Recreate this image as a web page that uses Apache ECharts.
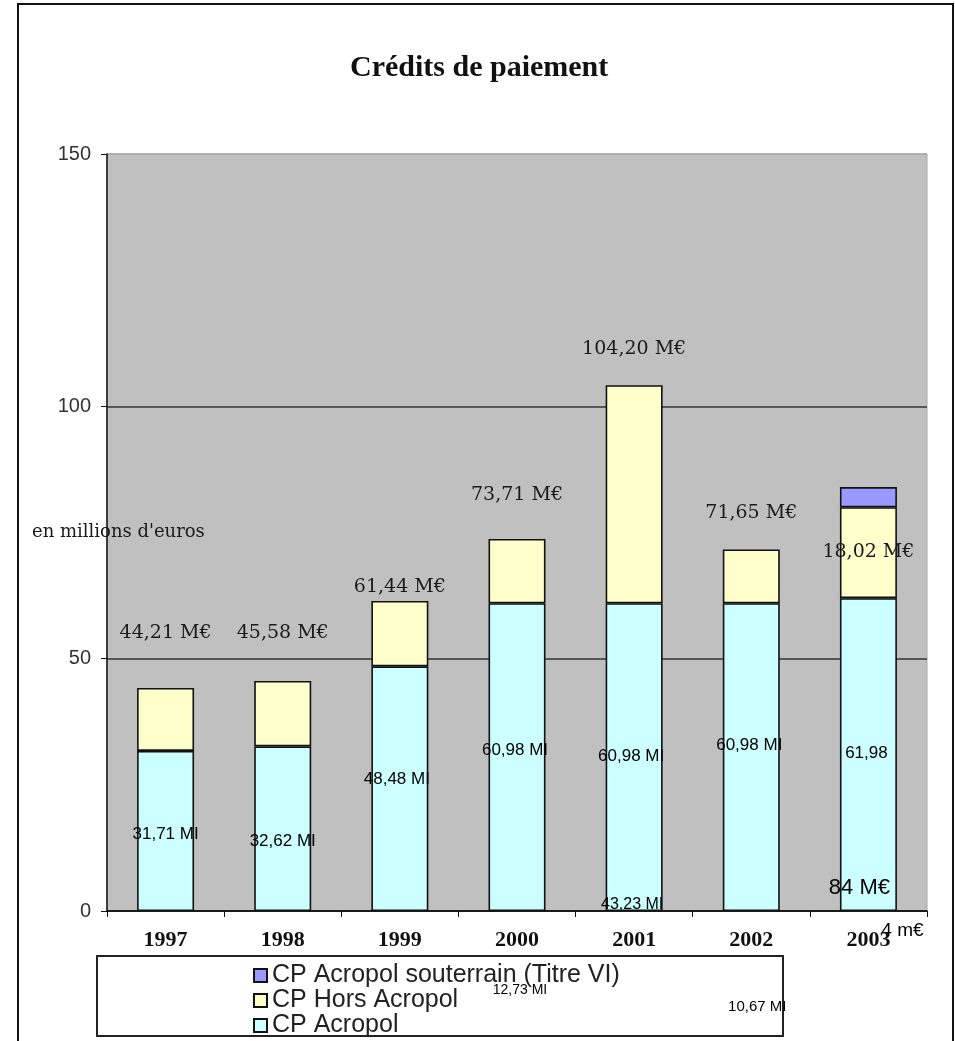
<!DOCTYPE html>
<html>
<head>
<meta charset="utf-8">
<title>Crédits de paiement</title>
<script src="https://cdn.jsdelivr.net/npm/echarts@6/dist/echarts.min.js"></script>
<style>
  html, body { margin: 0; padding: 0; background: #fff; }
  #chart { width: 955px; height: 1041px; }
</style>
</head>
<body>
<div id="chart"></div>
<script>
// années
const years = ['1997', '1998', '1999', '2000', '2001', '2002', '2003'];

// montants en millions d'euros
const cpAcropol = [31.71, 32.62, 48.48, 60.98, 60.98, 60.98, 61.98];
const cpHorsAcropol = [12.50, 12.96, 12.96, 12.73, 43.22, 10.67, 18.02];
const cpSouterrain = [null, null, null, null, null, null, 4];

const yTicks = [0, 50, 100, 150];

// étiquettes des totaux (texte + hauteur de l'étiquette en unités de l'axe)
const totalLabelText = ['44,21 M€', '45,58 M€', '61,44 M€', '73,71 M€', '104,20 M€', '71,65 M€', '18,02 M€'];
const totalLabelY = [55.1, 55.1, 64.2, 82.4, 111.4, 78.9, 71.1];

// étiquettes des segments : [année, hauteur, texte]
const segmentLabels = [
  [0, 15.1, '31,71 MI'],
  [1, 13.9, '32,62 MI'],
  [2, 26.0, '48,48 MI'],
  [3, 31.9, '60,98 MI'],
  [4, 30.7, '60,98 MI'],
  [5, 32.9, '60,98 MI'],
  [6, 31.3, '61,98'],
  [4, 1.2, '43,23 MI'],
  [3, -15.7, '12,73 MI'],
  [5, -19.0, '10,67 MI'],
  [6, 4.6, '84 M€'],
  [6, -4.0, '4 m€']
];
// taille et décalage horizontal de chaque étiquette de segment
const segmentLabelStyle = [
  [17, 0], [17, 0], [17, -3], [17, -2], [17, -3], [17, -2], [17, -2],
  [16, -2], [14, 3], [15, 6], [22, -9], [19, 34]
];

const chart = echarts.init(document.getElementById('chart'));

const option = {
  animation: false,
  backgroundColor: '#fff',
  title: {
    text: 'Crédits de paiement',
    left: 350,
    top: 53,
    padding: 0,
    textStyle: {
      fontFamily: 'Liberation Serif',
      fontWeight: 'bold',
      fontSize: 30,
      color: '#111'
    }
  },
  legend: {
    data: ['CP Acropol souterrain (Titre VI)', 'CP Hors Acropol', 'CP Acropol'],
    orient: 'vertical',
    left: 253,
    top: 963,
    padding: 0,
    itemGap: 0,
    itemWidth: 13,
    itemHeight: 13,
    icon: 'rect',
    selectedMode: false,
    textStyle: {
      fontFamily: 'Liberation Sans',
      fontSize: 25,
      lineHeight: 24,
      color: '#222'
    }
  },
  grid: {
    left: 107,
    right: 28,
    top: 154,
    bottom: 130,
    show: true,
    backgroundColor: '#c0c0c0',
    borderColor: '#a8a8a8',
    borderWidth: 1
  },
  xAxis: {
    type: 'category',
    data: years,
    axisLine: { lineStyle: { color: '#111', width: 1.5 } },
    axisTick: { show: true, length: 6, lineStyle: { color: '#111' } },
    axisLabel: {
      margin: 18,
      fontFamily: 'Liberation Serif',
      fontWeight: 'bold',
      fontSize: 22,
      color: '#111'
    }
  },
  yAxis: {
    type: 'value',
    min: yTicks[0],
    max: yTicks[yTicks.length - 1],
    interval: 50,
    axisLine: { show: true, lineStyle: { color: '#111', width: 1.5 } },
    axisTick: { show: true, length: 6, lineStyle: { color: '#111' } },
    axisLabel: {
      margin: 16,
      fontFamily: 'Liberation Sans',
      fontSize: 20,
      color: '#333'
    },
    splitLine: {
      show: true,
      lineStyle: { color: ['#111', '#333', '#333', '#a8a8a8'], width: 1.5 }
    }
  },
  series: [
    {
      name: 'CP Acropol',
      type: 'bar',
      stack: 'cp',
      barWidth: 57,
      data: cpAcropol,
      itemStyle: { color: '#ccffff', borderColor: '#111', borderWidth: 1.6 }
    },
    {
      name: 'CP Hors Acropol',
      type: 'bar',
      stack: 'cp',
      barWidth: 57,
      data: cpHorsAcropol,
      itemStyle: { color: '#ffffcc', borderColor: '#111', borderWidth: 1.6 }
    },
    {
      name: 'CP Acropol souterrain (Titre VI)',
      type: 'bar',
      stack: 'cp',
      barWidth: 57,
      data: cpSouterrain,
      itemStyle: { color: '#9999ff', borderColor: '#111', borderWidth: 1.6 }
    },
    {
      // étiquettes des totaux
      type: 'scatter',
      symbolSize: 0,
      silent: true,
      clip: false,
      z: 5,
      itemStyle: { opacity: 1 },
      data: totalLabelText.map((t, i) => ({ value: [i, totalLabelY[i]], name: t })),
      label: {
        show: true,
        position: 'inside',
        formatter: p => p.name,
        fontFamily: 'DejaVu Serif',
        fontSize: 19,
        color: '#1a1a1a',
        opacity: 1,
        textBorderWidth: 0
      }
    },
    {
      // étiquettes des segments
      type: 'scatter',
      symbolSize: 0,
      silent: true,
      clip: false,
      z: 5,
      itemStyle: { opacity: 1 },
      data: segmentLabels.map((s, i) => ({
        value: [s[0], s[1]],
        name: s[2],
        label: { fontSize: segmentLabelStyle[i][0], offset: [segmentLabelStyle[i][1], 0] }
      })),
      label: {
        show: true,
        position: 'inside',
        formatter: p => p.name,
        fontFamily: 'Liberation Sans',
        color: '#000',
        opacity: 1,
        textBorderWidth: 0
      }
    }
  ],
  graphic: [
    {
      type: 'rect',
      shape: { x: 18, y: 4, width: 935, height: 1100 },
      style: { fill: 'none', stroke: '#111', lineWidth: 2 },
      silent: true
    },
    {
      type: 'rect',
      shape: { x: 97, y: 956, width: 686, height: 80 },
      style: { fill: 'none', stroke: '#222', lineWidth: 2 },
      silent: true
    },
    {
      type: 'text',
      x: 32,
      y: 532,
      style: {
        text: "en millions d'euros",
        font: '18px "DejaVu Serif"',
        fill: '#1a1a1a',
        textVerticalAlign: 'middle'
      },
      silent: true
    }
  ]
};

chart.setOption(option);
</script>
</body>
</html>
